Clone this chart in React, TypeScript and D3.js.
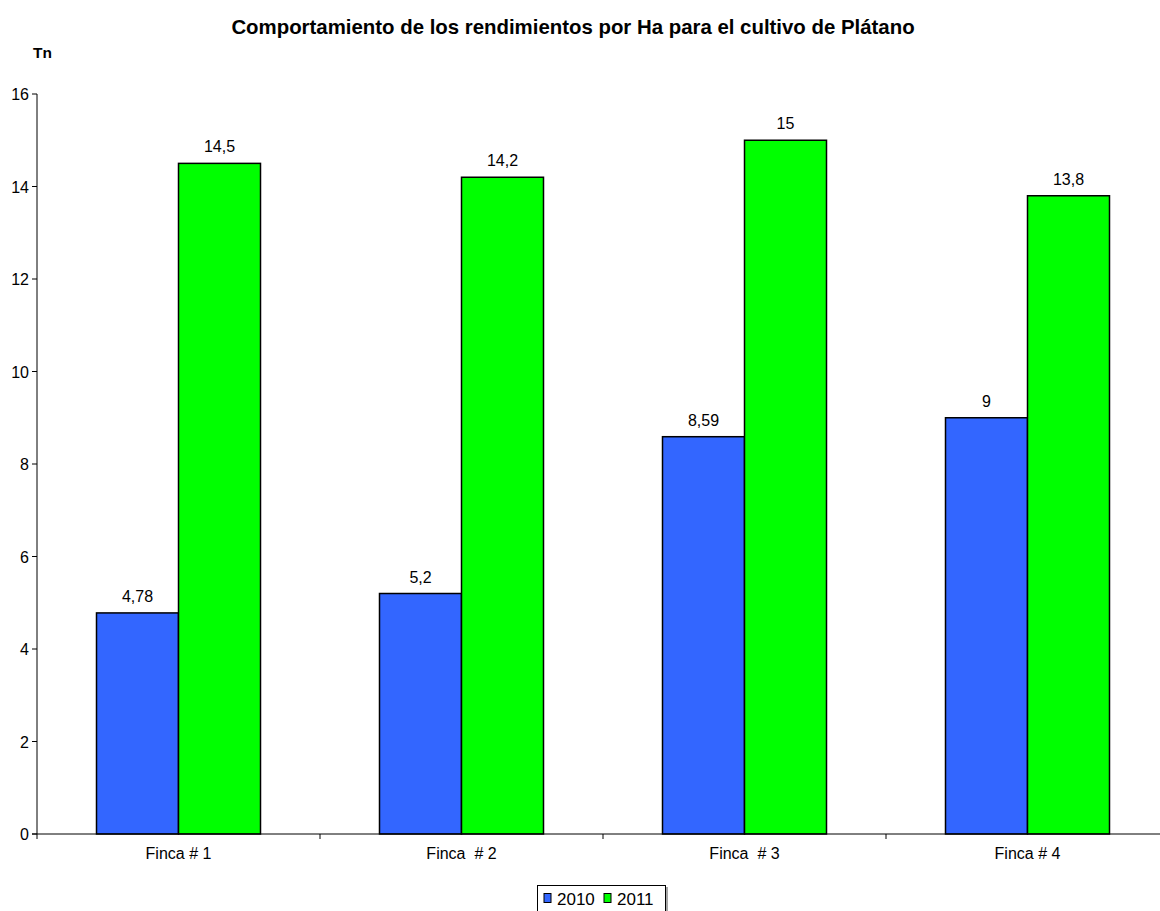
import React from "react";
import * as d3 from "d3";

const categories = ["Finca # 1", "Finca  # 2", "Finca  # 3", "Finca # 4"];
const series2010 = [4.78, 5.2, 8.59, 9];
const series2011 = [14.5, 14.2, 15, 13.8];
const labels2010 = ["4,78", "5,2", "8,59", "9"];
const labels2011 = ["14,5", "14,2", "15", "13,8"];
const yTicks = [0, 2, 4, 6, 8, 10, 12, 14, 16];
const seriesNames = ["2010", "2011"];
const colors = ["#3366FF", "#00FF00"];

export default function App() {
  const W = 1160, H = 911;
  const x0 = 37, bandW = 283;
  const x = d3.scaleBand<string>().domain(categories).range([x0, x0 + bandW * categories.length]).paddingInner(0).paddingOuter(0);
  const y = d3.scaleLinear().domain([0, 16]).range([834, 94]);
  const barW = 82;
  const font = "Arial, 'Liberation Sans', sans-serif";
  const data = [series2010, series2011];
  const labs = [labels2010, labels2011];
  return (
    <svg width={W} height={H} style={{ position: "absolute", left: 0, top: 0, background: "#fff" }} fontFamily={font}>
      <rect x={0} y={0} width={W} height={H} fill="#fff" />
      <text x={573} y={34} textAnchor="middle" fontSize={20.4} fontWeight="bold">Comportamiento de los rendimientos por Ha para el cultivo de Plátano</text>
      <text x={33} y={58} fontSize={15.5} fontWeight="bold">Tn</text>
      {/* y axis */}
      <line x1={x0} x2={x0} y1={y(16)} y2={y(0)} stroke="#000" strokeWidth={1} />
      {yTicks.map((t) => (
        <g key={t}>
          <line x1={x0 - 5} x2={x0} y1={y(t)} y2={y(t)} stroke="#000" />
          <text x={29} y={y(t) + 6} textAnchor="end" fontSize={16}>{t}</text>
        </g>
      ))}
      {/* bars */}
      {categories.map((c, i) => {
        const cx = (x(c) as number) + x.bandwidth() / 2;
        return (
          <g key={c}>
            {data.map((s, j) => {
              const bx = cx - barW + j * barW;
              return (
                <g key={j}>
                  <rect x={bx} y={y(s[i])} width={barW} height={y(0) - y(s[i])} fill={colors[j]} stroke="#000" strokeWidth={1.5} />
                  <text x={bx + barW / 2} y={y(s[i]) - 11} textAnchor="middle" fontSize={16}>{labs[j][i]}</text>
                </g>
              );
            })}
            <text x={cx} y={y(0) + 25} textAnchor="middle" fontSize={16} style={{ whiteSpace: "pre" }}>{c}</text>
          </g>
        );
      })}
      {/* x axis */}
      <line x1={x0 - 5} x2={W} y1={y(0)} y2={y(0)} stroke="#000" strokeWidth={1} />
      {categories.map((c, i) => (
        <line key={i} x1={(x(c) as number)} x2={(x(c) as number)} y1={y(0)} y2={y(0) + 5} stroke="#000" />
      ))}
      <line x1={x0 + bandW * 4} x2={x0 + bandW * 4} y1={y(0)} y2={y(0) + 5} stroke="#000" />
      {/* legend */}
      <rect x={537.5} y={885.5} width={128} height={30} fill="#fff" stroke="#000" />
      <line x1={667} x2={667} y1={887} y2={911} stroke="#888" strokeWidth={1.5} />
      {seriesNames.map((n, j) => (
        <g key={n}>
          <rect x={544 + j * 60} y={893.5} width={7} height={9} fill={colors[j]} stroke="#000" />
          <text x={557 + j * 60} y={905} fontSize={17}>{n}</text>
        </g>
      ))}
    </svg>
  );
}
